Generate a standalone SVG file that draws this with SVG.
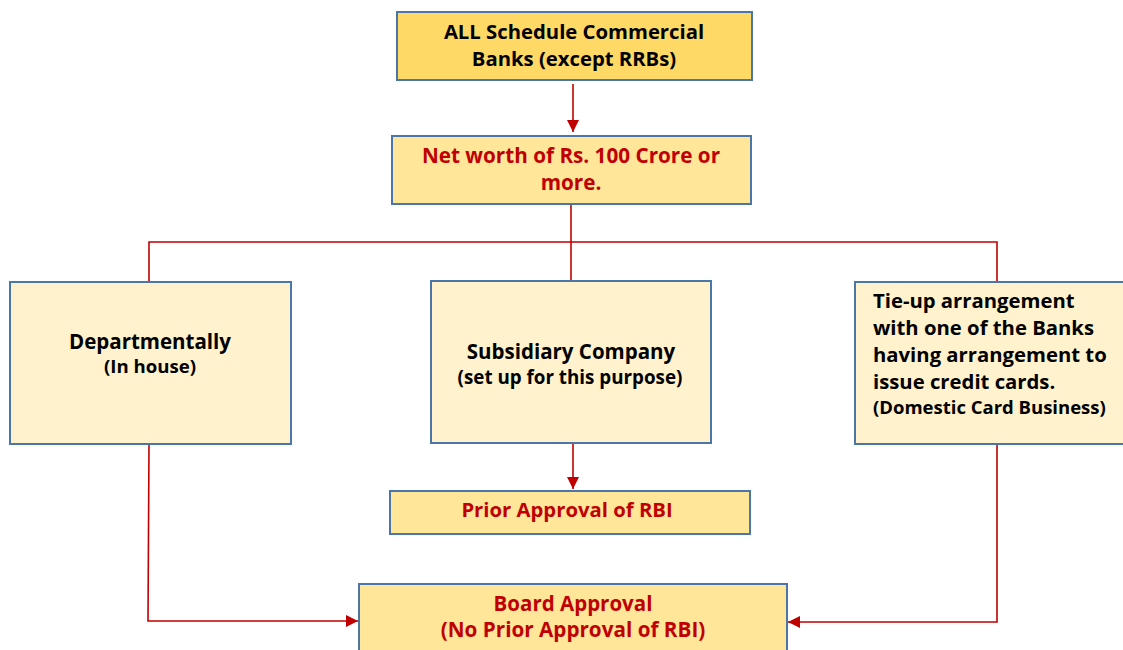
<svg xmlns="http://www.w3.org/2000/svg" width="1123" height="650" viewBox="0 0 1123 650">
<defs>
<style>
.box{stroke:#4A76A8;stroke-width:2}
.gold{fill:#FFD966}
.mid{fill:#FFE699}
.pale{fill:#FFF2CC}
.t{font-family:"Open Sans",Lato,sans-serif;font-weight:bold;fill:#000}
.r{fill:#C00000}
.c{text-anchor:middle}
.ln{stroke:#C00000;stroke-width:1.6;fill:none}
</style>
<marker id="ah" viewBox="0 0 10 10" refX="10" refY="5" markerWidth="7.5" markerHeight="7.5" orient="auto" markerUnits="strokeWidth">
<path d="M0,0 L10,5 L0,10 z" fill="#C00000"/>
</marker>
</defs>
<rect width="1123" height="650" fill="#fff"/>
<g id="connectors">
<path class="ln" d="M573,84 V132" marker-end="url(#ah)"/>
<path class="ln" d="M571,204 V280"/>
<path class="ln" d="M149,281 V242 H997 V281"/>
<path class="ln" d="M573,444 V489" marker-end="url(#ah)"/>
<path class="ln" d="M149,444 L148,621 H358" marker-end="url(#ah)"/>
<path class="ln" d="M997,444 V622 H788" marker-end="url(#ah)"/>
</g>
<g id="n1">
<rect class="box gold" x="397" y="12" width="355" height="68"/>
<text class="t c" x="574" y="39" font-size="20.3">ALL Schedule Commercial</text>
<text class="t c" x="574" y="66" font-size="20.3">Banks (except RRBs)</text>
</g>
<g id="n2">
<rect class="box mid" x="392" y="136" width="359" height="68"/>
<text class="t c r" x="571" y="163" font-size="20.7">Net worth of Rs. 100 Crore or</text>
<text class="t c r" x="571" y="190" font-size="20.7">more.</text>
</g>
<g id="n3">
<rect class="box pale" x="10" y="282" width="281" height="162"/>
<text class="t c" x="150" y="349" font-size="20.5">Departmentally</text>
<text class="t c" x="150" y="373" font-size="18.6">(In house)</text>
</g>
<g id="n4">
<rect class="box pale" x="431" y="281" width="280" height="162"/>
<text class="t c" x="571" y="359" font-size="20.5">Subsidiary Company</text>
<text class="t c" x="570" y="384" font-size="18.8">(set up for this purpose)</text>
</g>
<g id="n5">
<rect class="box pale" x="855" y="282" width="275" height="162"/>
<text class="t" x="873" y="308" font-size="20.3">Tie-up arrangement</text>
<text class="t" x="873" y="335" font-size="20.3">with one of the Banks</text>
<text class="t" x="873" y="362" font-size="20.3">having arrangement to</text>
<text class="t" x="873" y="389" font-size="20.3">issue credit cards.</text>
<text class="t" x="873" y="414" font-size="18.5">(Domestic Card Business)</text>
</g>
<g id="n6">
<rect class="box mid" x="390" y="491" width="360" height="43"/>
<text class="t c r" x="567" y="517" font-size="20.3">Prior Approval of RBI</text>
</g>
<g id="n7">
<rect class="box mid" x="359" y="584" width="428" height="75"/>
<text class="t c r" x="573" y="611" font-size="20.5">Board Approval</text>
<text class="t c r" x="573" y="637" font-size="20.7">(No Prior Approval of RBI)</text>
</g>
</svg>
